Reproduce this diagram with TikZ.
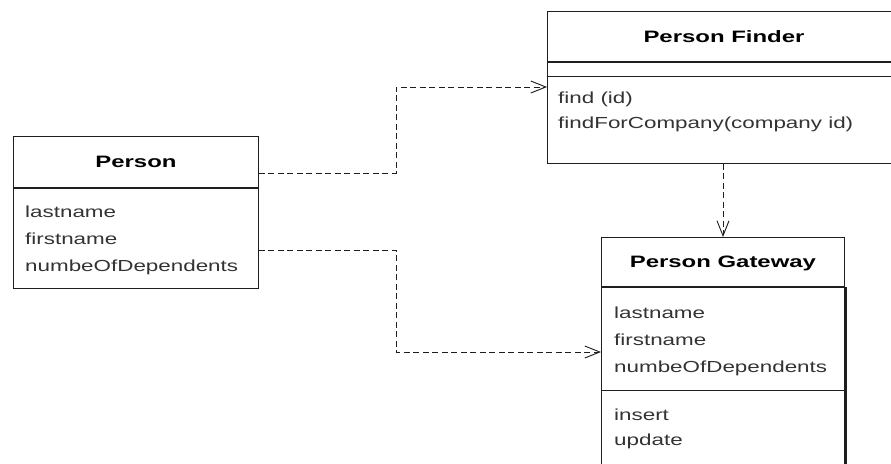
\documentclass[tikz,border=0pt]{standalone}
\usepackage{fontspec}
\newfontfamily\txtfont{Liberation Sans}[FakeStretch=1.4]
\newfontfamily\hdrfont{Liberation Sans}[FakeStretch=1.45]
\usetikzlibrary{arrows.meta}
\definecolor{ink}{HTML}{1E1E1E}
\definecolor{txt}{HTML}{333333}
\begin{document}
\begin{tikzpicture}[x=1pt,y=-1pt,
 box/.style={draw=ink, line width=0.9pt, inner sep=0pt, anchor=north west, fill=white},
 hdr/.style={box, font=\hdrfont\bfseries\fontsize{16.5}{18}\selectfont, text=black, text height=12pt, text depth=0pt},
 attr/.style={font=\txtfont\fontsize{16}{18}\selectfont, text=txt, anchor=base west, inner sep=0pt},
 thick line/.style={draw=ink, line width=2pt},
 dep/.style={draw=ink, line width=0.8pt, dash pattern=on 6pt off 3.5pt, -{Straight Barb[length=15pt,width=12pt,line width=0.9pt]}}]
\useasboundingbox (0,0) rectangle (891,463);
\clip (0,0) rectangle (891,463);
% Person
\node[hdr, minimum width=245pt, minimum height=51pt] (personH) at (13,136) {Person};
\node[box, minimum width=245pt, minimum height=101pt] (personB) at (13,187) {};
\draw[ink, line width=1.4pt] (personH.south west) -- (personH.south east);
\node[attr] (pa1) at (25,217) {lastname};
\node[attr] (pa2) at (25,244) {firstname};
\node[attr] (pa3) at (25,271) {numbeOfDependents};
% Person Finder
\node[hdr, minimum width=353pt, minimum height=50pt] (finderH) at (547,11) {Person Finder};
\node[box, minimum width=353pt, minimum height=15pt] (finderA) at (547,61) {};
\node[box, minimum width=353pt, minimum height=87pt] (finderB) at (547,76) {};
\draw[thick line] (finderH.south west) -- (finderH.south east);
\node[attr] (fo1) at (558,103) {find (id)};
\node[attr] (fo2) at (558,128) {findForCompany(company id)};
% Person Gateway
\node[hdr, minimum width=243pt, minimum height=49pt] (gwH) at (601,237) {Person Gateway};
\node[box, minimum width=243pt, minimum height=104pt] (gwA) at (601,286) {};
\node[box, minimum width=243pt, minimum height=90pt] (gwB) at (601,390) {};
\draw[thick line] (gwH.south west) -- (gwH.south east);
\draw[ink, line width=2.6pt] ([xshift=0.8pt]gwH.south east) -- ([xshift=0.8pt]gwB.south east);
\node[attr] (ga1) at (614,318) {lastname};
\node[attr] (ga2) at (614,345) {firstname};
\node[attr] (ga3) at (614,372) {numbeOfDependents};
\node[attr] (go1) at (614,420) {insert};
\node[attr] (go2) at (614,445) {update};
% dependencies
\draw[dep] (personH.east |- 0,173) -- (396,173) -- (396,87) -- (finderB.west |- 0,87);
\draw[dep] (personB.east |- 0,250) -- (396,250) -- (396,352) -- (gwA.west |- 0,352);
\draw[dep] (723,0 |- finderB.south) -- (723,0 |- gwH.north);
\end{tikzpicture}
\end{document}
